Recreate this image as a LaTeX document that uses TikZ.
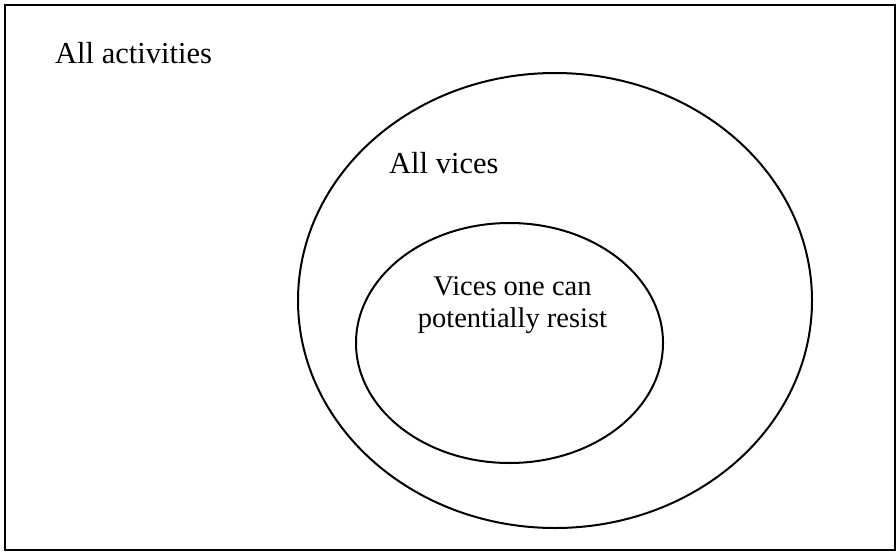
\documentclass[tikz,border=0pt]{standalone}
\usepackage{fontspec}
\setmainfont{Liberation Serif}
\usetikzlibrary{shapes.geometric}
\begin{document}
\begin{tikzpicture}[x=1pt,y=-1pt,
  setellipse/.style={ellipse,draw=black,line width=2pt,inner sep=0pt},
  lbl/.style={font=\fontsize{30.5}{33}\selectfont,inner sep=0pt},
  inlbl/.style={font=\fontsize{28.5}{32}\selectfont,inner sep=0pt}]
\useasboundingbox (0,0) rectangle (896,554);
\node[draw=black,line width=2.4pt,minimum width=890pt,minimum height=545pt,inner sep=0pt] (frame) at (450,277.5) {};
\node[setellipse,minimum width=514pt,minimum height=455pt] (allvices) at (555,300.5) {};
\node[setellipse,minimum width=307pt,minimum height=240pt] (resist) at (509.5,343) {};
\node[lbl,anchor=base west] (tact) at (55,63) {All activities};
\node[lbl,anchor=base west] (tvices) at (389,173) {All vices};
\node[inlbl,anchor=base] (tres1) at (512.5,295) {Vices one can};
\node[inlbl,anchor=base] (tres2) at (512.5,327) {potentially resist};
\end{tikzpicture}
\end{document}
